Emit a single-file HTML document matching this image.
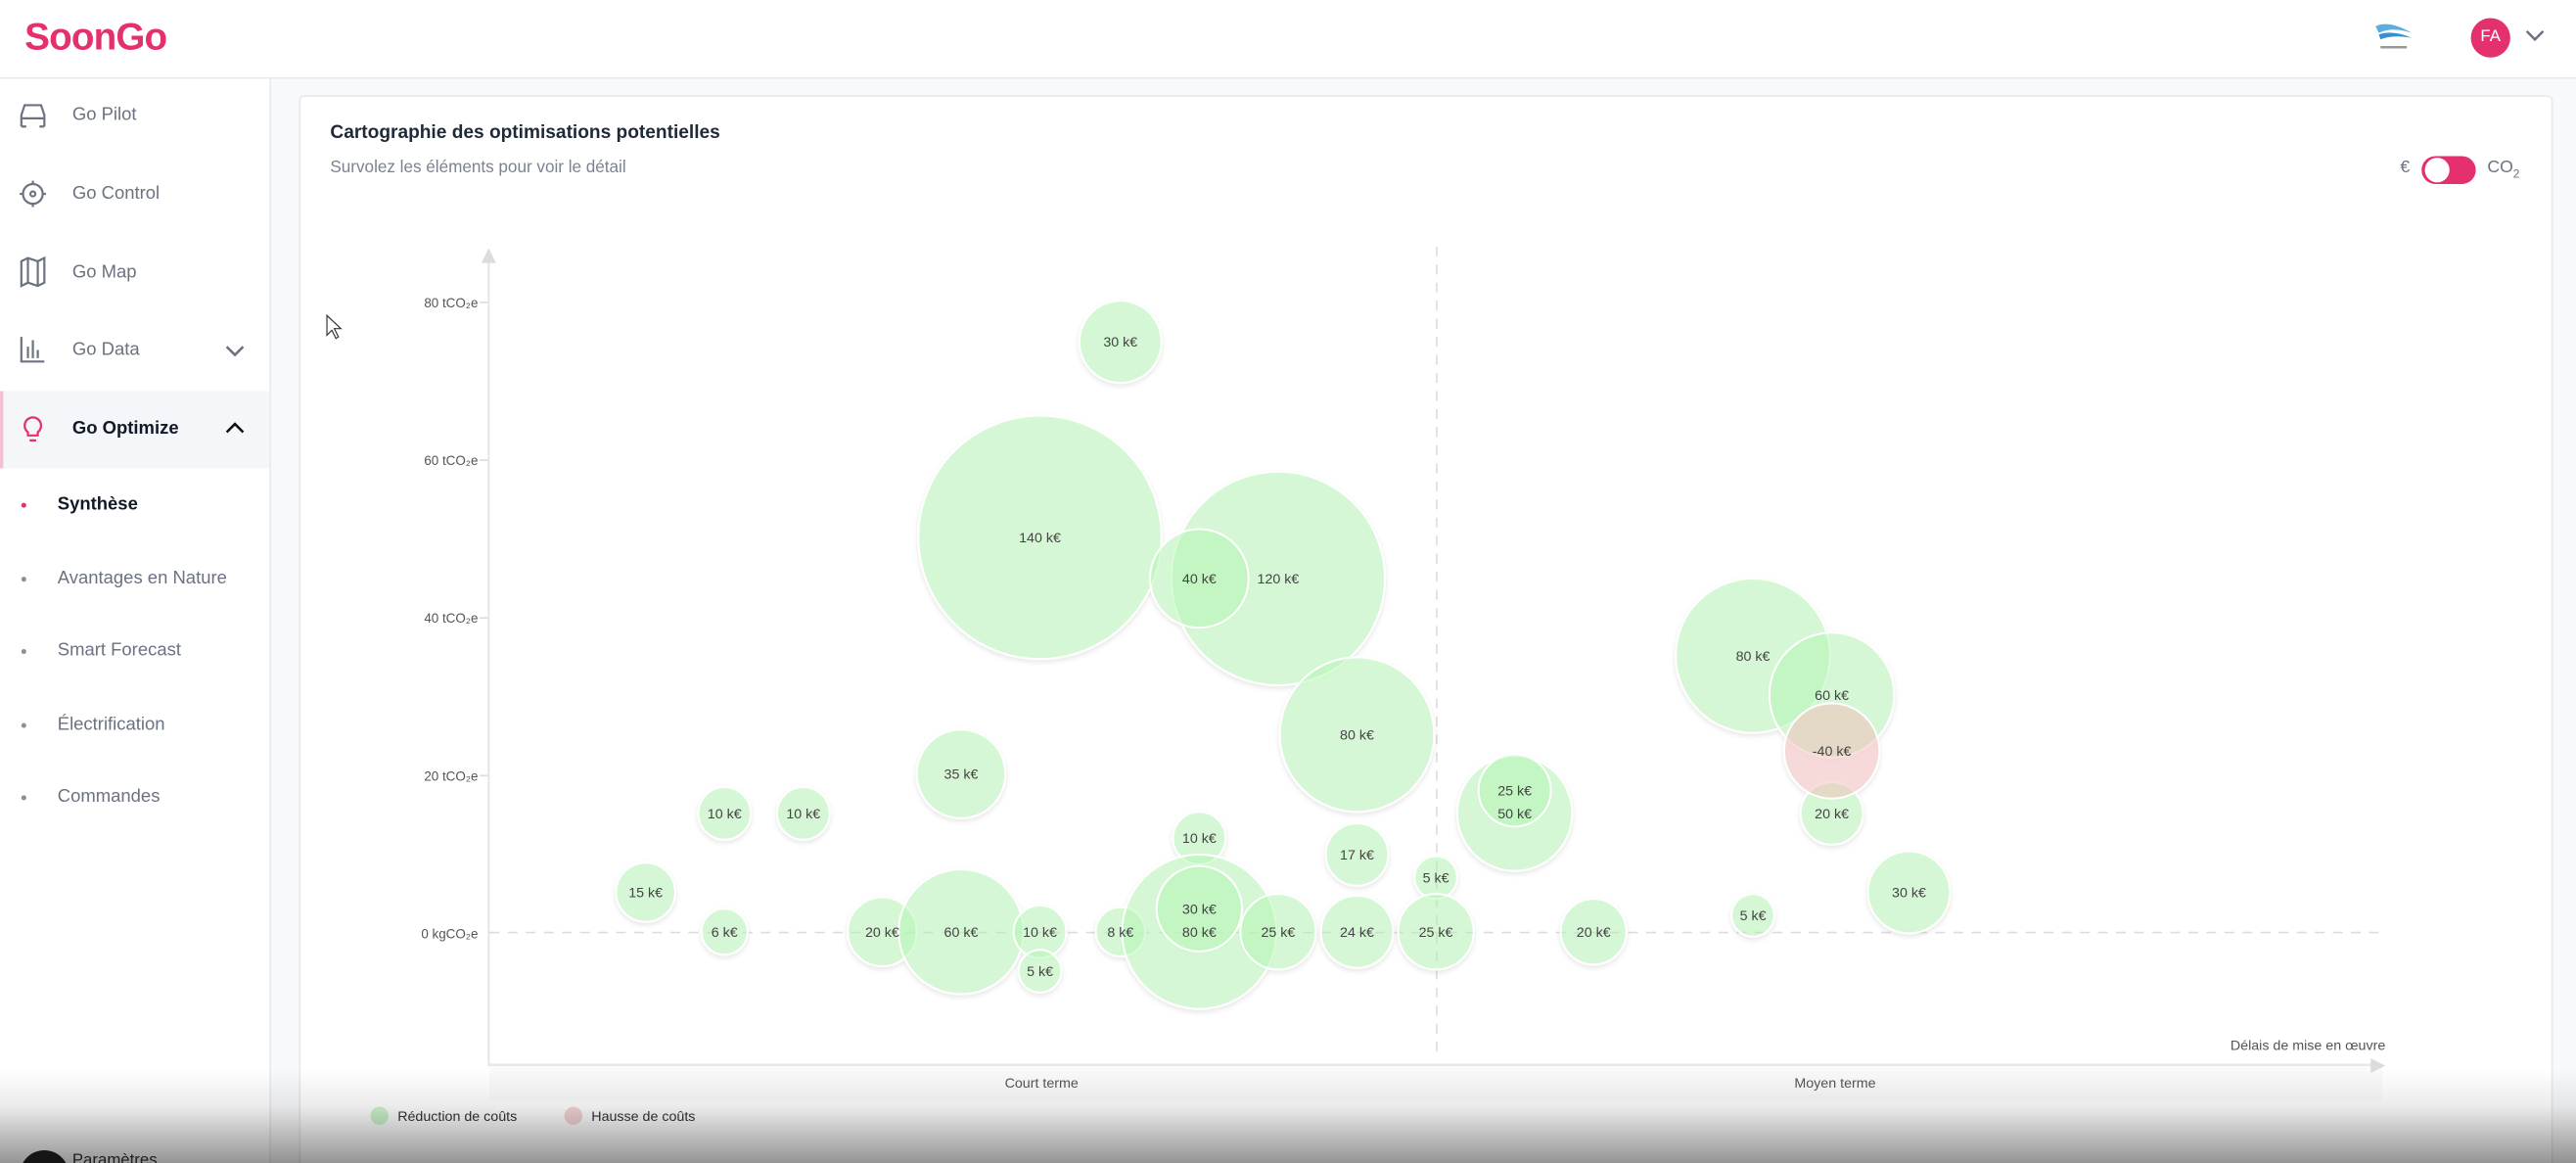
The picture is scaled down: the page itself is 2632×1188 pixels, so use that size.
<!DOCTYPE html>
<html><head><meta charset="utf-8"><style>
html,body{margin:0;padding:0;width:2632px;height:1188px;overflow:hidden;background:#fff;font-family:"Liberation Sans",sans-serif}
#w{position:absolute;left:0;top:0;width:2632px;height:1188px;overflow:hidden}
#s{position:absolute;left:0;top:0;width:1568px;height:708px;overflow:hidden;transform:scale(1.678571);transform-origin:0 0;}
.abs{position:absolute}
.nav{position:absolute;left:44px;font-size:11px;color:#6b7280;transform:translateY(-50%)}
.sub{position:absolute;left:35px;font-size:11px;color:#6b7280;transform:translateY(-50%)}
.dot{position:absolute;left:13px;width:3px;height:3px;border-radius:50%;background:#8a8f98}
</style></head><body><div id="w"><div id="s">
<div class="abs" style="left:0;top:0;width:1568px;height:47px;background:#fff;border-bottom:1px solid #e7e9ee"></div>
<div class="abs" style="left:15px;top:9px;font-size:23px;font-weight:bold;color:#e4306e;letter-spacing:-0.5px">SoonGo</div>
<svg class="abs" style="left:1444px;top:12px" width="26" height="22" viewBox="0 0 26 22"><path d="M2 4 Q10 0 24 8 Q12 4 4 8Z" fill="#5aaee0"/><path d="M4 9 Q12 6 24 11 Q12 9 5 12Z" fill="#3a8fcf"/><rect x="5" y="16" width="16" height="1.5" fill="#999"/></svg>
<div class="abs" style="left:1504px;top:11px;width:24px;height:24px;border-radius:50%;background:#e4306e;color:#fff;font-size:10px;line-height:24px;text-align:center">FA</div>
<svg class="abs" style="left:1537px;top:18px" width="12" height="8"><path d="M1 1 L6 6 L11 1" stroke="#6b7280" stroke-width="1.5" fill="none"/></svg>
<div class="abs" style="left:0;top:48px;width:164px;height:660px;background:#fff;border-right:1px solid #e7e9ee"></div>
<div class="abs" style="left:0;top:238px;width:164px;height:47px;background:#f4f6f9"></div>
<div class="abs" style="left:0;top:238px;width:2px;height:47px;background:#f3c0d2"></div>
<svg class="abs" style="left:10px;top:60px" width="20" height="220" viewBox="0 0 20 220" fill="none" stroke="#6b7280" stroke-width="1.3">
<path d="M3 17 V10 L5 4 H15 L17 10 V17 M3 12 H17 M3 17 H6 M14 17 H17"/>
<circle cx="10" cy="58" r="6"/><circle cx="10" cy="58" r="1.5"/><path d="M10 50 V52 M10 64 V66 M2 58 H4 M16 58 H18"/>
<path d="M3 99 L7 97 L13 99 L17 97 V112 L13 114 L7 112 L3 114Z M7 97 V112 M13 99 V114"/>
<path d="M3 145 V160 H17 M7 158 V151 M10 158 V147 M13 158 V153"/>
<path d="M10 194 a5 5 0 0 1 3 9 v2 h-6 v-2 a5 5 0 0 1 3 -9 M8 208 H12" stroke="#e4306e"/>
</svg>
<div class="nav" style="top:70px">Go Pilot</div>
<div class="nav" style="top:118px">Go Control</div>
<div class="nav" style="top:166px">Go Map</div>
<div class="nav" style="top:213px">Go Data</div>
<div class="nav" style="top:261px;color:#111827;font-weight:bold">Go Optimize</div>
<svg class="abs" style="left:137px;top:209px" width="12" height="56"><path d="M1 2 L6 7 L11 2" stroke="#6b7280" stroke-width="1.5" fill="none"/><path d="M1 54 L6 49 L11 54" stroke="#111" stroke-width="1.5" fill="none"/></svg>
<div class="dot" style="top:306px;background:#e4306e"></div><div class="sub" style="top:307px;color:#111827;font-weight:bold">Synthèse</div>
<div class="dot" style="top:351px"></div><div class="sub" style="top:352px">Avantages en Nature</div>
<div class="dot" style="top:395px"></div><div class="sub" style="top:396px">Smart Forecast</div>
<div class="dot" style="top:440px"></div><div class="sub" style="top:441px">Électrification</div>
<div class="dot" style="top:484px"></div><div class="sub" style="top:485px">Commandes</div>
<div class="abs" style="left:12px;top:700px;width:30px;height:30px;border-radius:50%;background:#222"></div>
<div class="abs" style="left:44px;top:701px;font-size:10px;color:#333">Paramètres</div>
<div class="abs" style="left:165px;top:48px;width:1403px;height:660px;background:#f8f9fa"></div>
<div class="abs" style="left:182px;top:58px;width:1370px;height:660px;background:#fff;border:1px solid #e7e9ee;border-radius:3px"></div>
<div class="abs" style="left:201px;top:75px;font-size:11.4px;font-weight:bold;color:#1f2937">Cartographie des optimisations potentielles</div>
<div class="abs" style="left:201px;top:97px;font-size:10.2px;color:#7b8290">Survolez les éléments pour voir le détail</div>
<div class="abs" style="left:1461px;top:96px;font-size:10.5px;color:#6b7280">€</div>
<div class="abs" style="left:1474px;top:95px;width:33px;height:17px;border-radius:9px;background:#e4306e"></div>
<div class="abs" style="left:1476px;top:96px;width:15px;height:15px;border-radius:50%;background:#fff"></div>
<div class="abs" style="left:1514px;top:96px;font-size:10.5px;color:#6b7280">CO<sub style="font-size:7px">2</sub></div>
<svg class="abs" style="left:0;top:0" width="1568" height="708" viewBox="0 0 1568 708" font-family="Liberation Sans, sans-serif">
<defs><filter id="sh" x="-20%" y="-20%" width="140%" height="150%"><feDropShadow dx="0" dy="1.5" stdDeviation="1.5" flood-color="#000" flood-opacity="0.12"/></filter></defs>
<rect x="298" y="648" width="1152" height="22" fill="#fafafa"/>
<line x1="297.5" y1="158" x2="297.5" y2="648" stroke="#e5e5e5" stroke-width="1.2"/>
<path d="M293 160 L297.5 151 L302 160Z" fill="#dcdcdc"/>
<line x1="297" y1="648" x2="1444" y2="648" stroke="#e8e8e8" stroke-width="1.5"/>
<path d="M1443 644 L1452 648.5 L1443 653Z" fill="#dcdcdc"/>
<line x1="874.5" y1="150" x2="874.5" y2="645" stroke="#ddd" stroke-dasharray="6,5"/>
<line x1="298" y1="567.5" x2="1450" y2="567.5" stroke="#ddd" stroke-dasharray="6,5"/>
<g font-size="8px" fill="#555" text-anchor="end">
<text x="291" y="187">80 tCO₂e</text><line x1="292" y1="184" x2="297" y2="184" stroke="#ddd"/>
<text x="291" y="283">60 tCO₂e</text><line x1="292" y1="280" x2="297" y2="280" stroke="#ddd"/>
<text x="291" y="379">40 tCO₂e</text><line x1="292" y1="376" x2="297" y2="376" stroke="#ddd"/>
<text x="291" y="475">20 tCO₂e</text><line x1="292" y1="472" x2="297" y2="472" stroke="#ddd"/>
<text x="291" y="571">0 kgCO₂e</text>
<text x="1452" y="639" font-size="8.5px">Délais de mise en œuvre</text>
</g>
<g font-size="8.5px" fill="#555" text-anchor="middle"><text x="634" y="662">Court terme</text><text x="1117" y="662">Moyen terme</text></g>
<g fill="rgb(182,248,182)" fill-opacity="0.5" stroke="#fff" stroke-width="1.2" filter="url(#sh)">
<circle cx="682" cy="208" r="25"/><circle cx="633" cy="327" r="74"/><circle cx="778" cy="352" r="65"/><circle cx="730" cy="352" r="30"/>
<circle cx="826" cy="447" r="47"/><circle cx="585" cy="471" r="27"/><circle cx="441" cy="495" r="16"/><circle cx="489" cy="495" r="16"/>
<circle cx="730" cy="510" r="16"/><circle cx="826" cy="520" r="19"/><circle cx="393" cy="543" r="18"/><circle cx="874" cy="534" r="13"/>
<circle cx="922" cy="495" r="35"/><circle cx="922" cy="481" r="22"/><circle cx="441" cy="567" r="14"/><circle cx="537" cy="567" r="21"/>
<circle cx="585" cy="567" r="38"/><circle cx="633" cy="567" r="16"/><circle cx="633" cy="591" r="13"/><circle cx="682" cy="567" r="15"/>
<circle cx="730" cy="567" r="47"/><circle cx="730" cy="553" r="26"/><circle cx="778" cy="567" r="23"/><circle cx="826" cy="567" r="22"/>
<circle cx="874" cy="567" r="23"/><circle cx="970" cy="567" r="20"/><circle cx="1067" cy="557" r="13"/><circle cx="1067" cy="399" r="47"/>
<circle cx="1115" cy="423" r="38"/><circle cx="1115" cy="495" r="19"/><circle cx="1162" cy="543" r="25"/>
<circle cx="1115" cy="457" r="29" fill="rgb(245,190,190)" fill-opacity="0.5"/>
</g>
<g font-size="8.5px" fill="#444" text-anchor="middle">
<text x="682" y="211">30 k€</text><text x="633" y="330">140 k€</text><text x="730" y="355">40 k€</text><text x="778" y="355">120 k€</text>
<text x="826" y="450">80 k€</text><text x="585" y="474">35 k€</text><text x="441" y="498">10 k€</text><text x="489" y="498">10 k€</text>
<text x="730" y="513">10 k€</text><text x="826" y="523">17 k€</text><text x="393" y="546">15 k€</text><text x="874" y="537">5 k€</text>
<text x="922" y="484">25 k€</text><text x="922" y="498">50 k€</text><text x="441" y="570">6 k€</text><text x="537" y="570">20 k€</text>
<text x="585" y="570">60 k€</text><text x="633" y="570">10 k€</text><text x="633" y="594">5 k€</text><text x="682" y="570">8 k€</text>
<text x="730" y="556">30 k€</text><text x="730" y="570">80 k€</text><text x="778" y="570">25 k€</text><text x="826" y="570">24 k€</text>
<text x="874" y="570">25 k€</text><text x="970" y="570">20 k€</text><text x="1067" y="560">5 k€</text><text x="1067" y="402">80 k€</text>
<text x="1115" y="426">60 k€</text><text x="1115" y="460">-40 k€</text><text x="1115" y="498">20 k€</text><text x="1162" y="546">30 k€</text>
</g>
<circle cx="231" cy="679" r="5.5" fill="#ccf5cc"/><text x="242" y="682" font-size="8.5px" fill="#333">Réduction de coûts</text>
<circle cx="349" cy="679" r="5.5" fill="#f5d5d5"/><text x="360" y="682" font-size="8.5px" fill="#333">Hausse de coûts</text>
<path d="M199 192 L199 204 L202 201 L204.5 206 L206 205 L203.5 200 L207.5 200Z" fill="#fff" stroke="#333" stroke-width="0.7"/>
</svg>
<div class="abs" style="left:0;top:650px;width:1568px;height:58px;background:linear-gradient(to bottom,rgba(0,0,0,0) 0%,rgba(0,0,0,0.08) 40%,rgba(0,0,0,0.42) 100%)"></div>
</div></div></body></html>
